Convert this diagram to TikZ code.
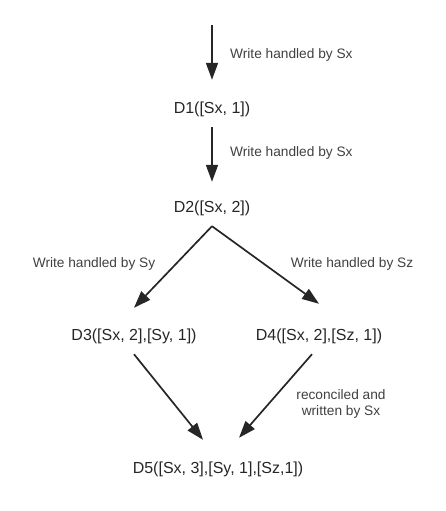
\documentclass[tikz,border=0pt]{standalone}
\usepackage{fontspec}
\setmainfont{Liberation Sans}
\usetikzlibrary{arrows.meta, positioning}

\definecolor{inkdark}{HTML}{262626}
\definecolor{inklabel}{HTML}{404040}

\tikzset{
  version/.style={inner xsep=0pt, inner ysep=9.75pt, text height=11pt, text depth=3.5pt,
    font=\fontsize{16}{18}\selectfont, text=inkdark},
  writer/.style={inner sep=0pt, font=\fontsize{13.7}{16}\selectfont, text=inklabel, align=center},
  flow/.style={draw=inkdark, line width=1.7pt, -{Triangle[length=17pt,width=12pt]}}
}

\begin{document}
\begin{tikzpicture}[x=1pt, y=1pt]
\useasboundingbox (0,0) rectangle (446,-511);

\coordinate (start) at (212,-25);
\node[version] (d1) at (212,-110) {D1([Sx, 1])};
\node[version] (d2) at (212,-209) {D2([Sx, 2])};
\node[version] (d3) at (134,-337) {D3([Sx, 2],[Sy, 1])};
\node[version] (d4) at (319,-337) {D4([Sx, 2],[Sz, 1])};
\node[version] (d5) at (218,-470) {D5([Sx, 3],[Sy, 1],[Sz,1])};

\draw[flow] (start) -- ([yshift=13pt]d1.north);
\draw[flow] (d1.south) -- ([yshift=10pt]d2.north);
\draw[flow] (d2.south) -- ([yshift=12pt]d3.north);
\draw[flow] (d2.south) -- ([yshift=16pt]d4.north);
\draw[flow] (d3.south) -- ([xshift=-15pt,yshift=13pt]d5.north);
\draw[flow] ([xshift=-7pt]d4.south) -- ([xshift=21pt,yshift=15pt]d5.north);

\node[writer, anchor=west] (w1) at (230,-55) {Write handled by Sx};
\node[writer, anchor=west] (w2) at (230,-153) {Write handled by Sx};
\node[writer] (wy) at (94,-264) {Write handled by Sy};
\node[writer] (wz) at (352,-264) {Write handled by Sz};
\node[writer] (rc) at (341,-404) {reconciled and\\written by Sx};

\end{tikzpicture}
\end{document}
